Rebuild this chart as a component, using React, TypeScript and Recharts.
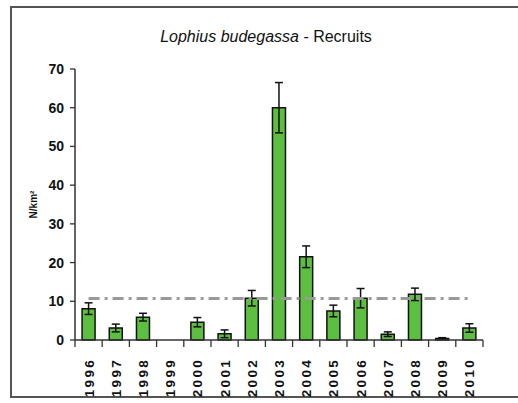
import React from 'react';
import { ComposedChart, Bar, Line, XAxis, YAxis, ErrorBar } from 'recharts';

const years = ['1996', '1997', '1998', '1999', '2000', '2001', '2002', '2003', '2004', '2005', '2006', '2007', '2008', '2009', '2010'];
const recruits = [8.1, 3.1, 5.9, 0, 4.6, 1.6, 10.8, 60, 21.5, 7.5, 10.8, 1.5, 11.8, 0.4, 3.1];
const errors = [1.5, 1, 1, 0, 1.2, 1, 2, 6.5, 2.8, 1.5, 2.5, 0.6, 1.6, 0.2, 1.1];
const meanLevel = 10.7;
const yTicks = [0, 10, 20, 30, 40, 50, 60, 70];

const data = years.map((year, i) => ({
  year,
  recruits: recruits[i],
  err: errors[i],
  mean: meanLevel,
}));

const W = 518, H = 403;
const margin = { top: 69, right: 35, left: 31, bottom: 13 };
const yAxisWidth = 44;
const step = (W - margin.left - margin.right - yAxisWidth) / years.length;

const font = '"Liberation Sans", Arial, sans-serif';

// ticks sit between the categories, labels are rotated
const XTick = (props) => {
  const { x, y, payload } = props;
  const idx = props.index ?? payload.index;
  const last = idx === years.length - 1;
  return (
    <g>
      <line x1={x - step / 2} y1={y} x2={x - step / 2} y2={y + 7} stroke="#333" strokeWidth={1.3} />
      {last && <line x1={x + step / 2} y1={y} x2={x + step / 2} y2={y + 7} stroke="#333" strokeWidth={1.3} />}
      <text
        transform={`translate(${x + 5},${y + 18}) rotate(-90)`}
        textAnchor="end"
        fontFamily={font}
        fontWeight="bold"
        fontSize={13.5}
        letterSpacing={2.3}
        fill="#111"
      >
        {payload.value}
      </text>
    </g>
  );
};

const YLabel = (props) => {
  const { x, y, height } = props.viewBox;
  return (
    <text
      transform={`translate(${x + 6},${y + height / 2}) rotate(-90)`}
      textAnchor="middle"
      fontFamily={font}
      fontWeight="bold"
      fontSize={10}
      fill="#111"
    >
      N/km²
    </text>
  );
};

const App = () => {
  return (
    <div style={{ position: 'fixed', left: 0, top: 0, width: W, height: H, background: '#fff', overflow: 'hidden' }}>
      <div
        style={{
          position: 'absolute',
          left: 10,
          top: 6,
          width: 520,
          height: 392,
          border: '2px solid #555',
          boxSizing: 'border-box',
        }}
      />
      <div
        style={{
          position: 'absolute',
          left: 0,
          width: 532,
          top: 28,
          textAlign: 'center',
          fontFamily: font,
          fontSize: 16,
          color: '#111',
        }}
      >
        <i>Lophius budegassa</i> - Recruits
      </div>
      <div style={{ position: 'absolute', left: 0, top: 0 }}>
        <ComposedChart width={W} height={H} data={data} margin={margin} barCategoryGap="26%">
          <XAxis
            dataKey="year"
            height={50}
            tickLine={false}
            tickSize={0}
            tickMargin={0}
            interval={0}
            axisLine={{ stroke: '#333', strokeWidth: 1.5 }}
            tick={<XTick />}
          />
          <YAxis
            width={yAxisWidth}
            domain={[0, 70]}
            ticks={yTicks}
            interval={0}
            tickSize={5}
            tickMargin={6}
            axisLine={{ stroke: '#333', strokeWidth: 1.5 }}
            tickLine={{ stroke: '#333', strokeWidth: 1.3 }}
            tick={{ fontFamily: font, fontWeight: 'bold', fontSize: 14, fill: '#111' }}
            label={<YLabel />}
          />
          <Bar dataKey="recruits" fill="#5dbf3f" stroke="#111" strokeWidth={1.5} isAnimationActive={false}>
            <ErrorBar dataKey="err" width={4} stroke="#111" strokeWidth={1.5} direction="y" isAnimationActive={false} />
          </Bar>
          <Line
            dataKey="mean"
            stroke="#999"
            strokeWidth={3}
            strokeDasharray="11 5 3 5"
            dot={false}
            activeDot={false}
            isAnimationActive={false}
          />
        </ComposedChart>
      </div>
    </div>
  );
};

export default App;
